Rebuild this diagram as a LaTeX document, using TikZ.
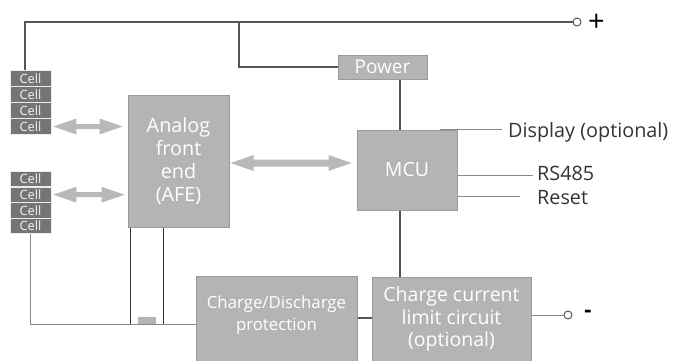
\documentclass[tikz,border=0pt]{standalone}
\usepackage{fontspec}
\setmainfont{Open Sans}
\usetikzlibrary{calc}
\definecolor{boxfill}{HTML}{B4B4B4}
\definecolor{boxline}{HTML}{9A9A9A}
\definecolor{cellfill}{HTML}{757575}
\definecolor{arrowfill}{HTML}{B9B9B9}
\definecolor{wiredark}{HTML}{555555}
\definecolor{wiregray}{HTML}{8A8A8A}
\definecolor{wireblack}{HTML}{333333}
\definecolor{labeltext}{HTML}{333333}
\newcommand\fatarrow[3]{%
  \fill[arrowfill] (#1) -- ++(23,-8) -- ++(0,8-#3) -- ($(#2)+(-23,-#3)$) -- ++(0,-8+#3) -- (#2)
    -- ++(-23,8) -- ++(0,-8+#3) -- ($(#1)+(23,#3)$) -- ++(0,8-#3) -- cycle;}
\begin{document}
\begin{tikzpicture}[x=1pt,y=-1pt,
  box/.style={draw=boxline, fill=boxfill, line width=1, inner sep=0, text=white, align=center},
  boxtext/.style={inner sep=0, text=white, align=center},
  cellbox/.style={fill=cellfill, draw=white!85!gray, line width=0.8, minimum width=41, minimum height=15.5,
    inner sep=0, text=white!90!gray, font=\fontsize{12.8}{12.8}\selectfont},
  wire/.style={draw=wiredark, line width=1.1},
  thinwire/.style={draw=wiregray, line width=0.9},
  blackwire/.style={draw=wireblack, line width=0.8},
  lbl/.style={inner sep=0, text=labeltext, anchor=west, font=\fontsize{19.8}{19.8}\selectfont},
  term/.style={circle, draw=wiredark, fill=white, line width=1, minimum size=8, inner sep=0}
]
\useasboundingbox (0,0) rectangle (673,360);
\clip (0,0) rectangle (673,360);

% cells
\node[cellbox] (cA1) at (30.5,78.5) {Cell};
\node[cellbox] (cA2) at (30.5,94.5) {Cell};
\node[cellbox] (cA3) at (30.5,110.5) {Cell};
\node[cellbox] (cA4) at (30.5,126.5) {Cell};
\node[cellbox] (cB1) at (30.5,179) {Cell};
\node[cellbox] (cB2) at (30.5,194.7) {Cell};
\node[cellbox] (cB3) at (30.5,210.4) {Cell};
\node[cellbox] (cB4) at (30.5,226) {Cell};

% boxes
\node[box, minimum width=101, minimum height=132, font=\fontsize{19.8}{23}\selectfont] (afe) at (178.5,161) {Analog\\front\\end\\(AFE)};
\node[box, minimum width=100, minimum height=80, font=\fontsize{19.5}{19.5}\selectfont] (mcu) at (407,170) {MCU};
\node[box, minimum width=89, minimum height=24, font=\fontsize{19}{19}\selectfont] (power) at (382.5,67) {Power};
\node[box, minimum width=161, minimum height=104] (cd) at (276.5,328) {};
\node[boxtext, font=\fontsize{16.8}{22.5}\selectfont] (cdt) at (276.5,315) {Charge/Discharge\\protection};
\node[box, minimum width=159, minimum height=104] (ccl) at (451.5,329) {};
\node[boxtext, font=\fontsize{19.5}{22.5}\selectfont] (cclt) at (451.5,319) {Charge current\\limit circuit\\(optional)};

% terminals
\node[term] (plus) at (577,22) {};
\node[inner sep=0, text=black, font=\fontsize{29}{29}\selectfont] (plusl) at (596.5,23) {+};
\node[term] (minus) at (568,315) {};
\node[inner sep=0, text=black, font=\bfseries\fontsize{22}{22}\selectfont] (minusl) at (588,314) {-};

% labels
\node[lbl] (disp) at (508,132) {Display (optional)};
\node[lbl] (rs) at (537,173) {RS485};
\node[lbl] (rst) at (537,198) {Reset};

% top bus
\coordinate (busL) at (25,22);
\coordinate (tap) at (239,22);
\draw[wire] (cA1.north -| busL) -- (busL) -- (plus.west);
\draw[wire] (tap) |- (power.west);
\coordinate (vx) at (400,0);
\draw[wire] (power.south -| vx) -- (mcu.north -| vx);
\draw[wire] (mcu.south -| vx) -- (ccl.north -| vx);

% MCU outputs
\coordinate (d1) at (440,129);
\coordinate (d2) at (502,129);
\draw[thinwire] (d1) -- (d2);
\coordinate (r2) at (533,175);
\draw[thinwire] (mcu.east |- r2) -- (r2);
\coordinate (s2) at (520,196);
\draw[thinwire] (mcu.east |- s2) -- (s2);

% bottom wiring
\coordinate (bl) at (30,324);
\draw[thinwire] (cB4.south -| bl) -- (bl) -- (cd.west |- bl);
\coordinate (v1) at (130,324);
\coordinate (v2) at (163,324);
\draw[blackwire] (afe.south -| v1) -- (v1);
\draw[blackwire] (afe.south -| v2) -- (v2);
\node[fill=boxfill, minimum width=18, minimum height=7, inner sep=0] (fuse) at (147,320.5) {};
\coordinate (m1) at (0,318);
\draw[wire] (cd.east |- m1) -- (ccl.west |- m1);
\draw[thinwire] (ccl.east |- minus) -- (minus.west);

% fat arrows
\coordinate (aL1) at ($(cA4.east)+(2,0)$);
\coordinate (aR1) at ($(afe.west |- cA4.east)+(-5,0)$);
\fatarrow{aL1}{aR1}{2.5}
\coordinate (aL2) at ($(cB2.east)+(2,0)$);
\coordinate (aR2) at ($(afe.west |- cB2.east)+(-3,0)$);
\fatarrow{aL2}{aR2}{2.5}
\coordinate (y3) at (0,163);
\coordinate (aL3) at ($(afe.east |- y3)+(1,0)$);
\coordinate (aR3) at ($(mcu.west |- y3)+(-5,0)$);
\fatarrow{aL3}{aR3}{3.5}
\end{tikzpicture}
\end{document}
